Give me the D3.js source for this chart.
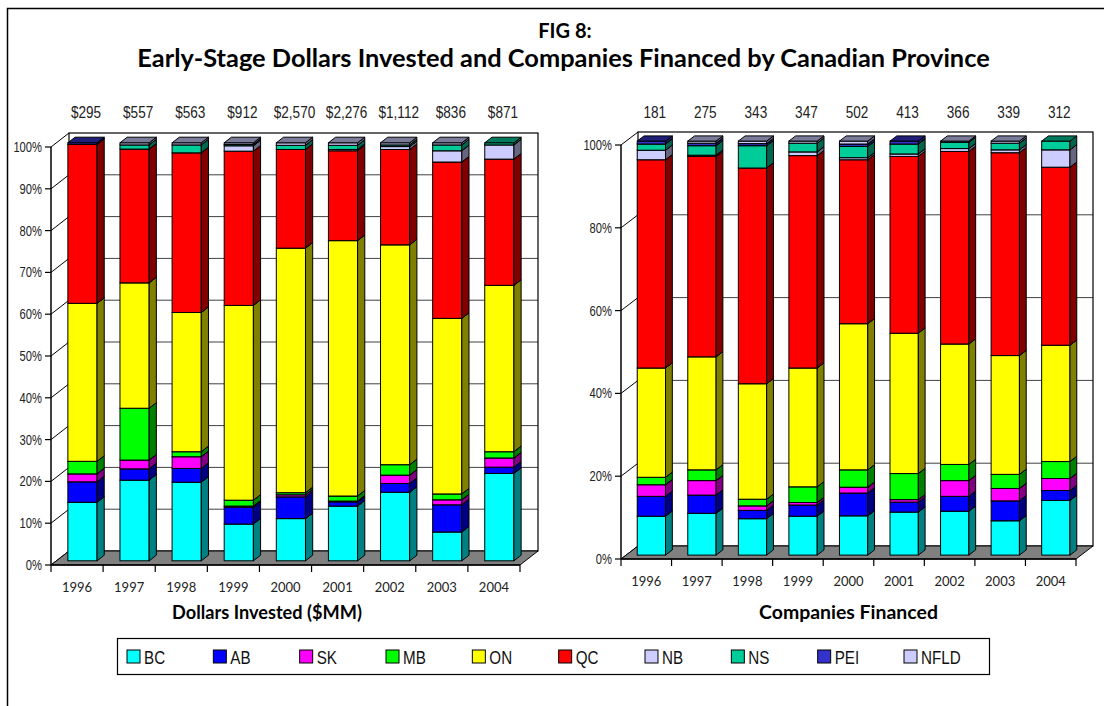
<!DOCTYPE html>
<html>
<head>
<meta charset="utf-8">
<script src="https://cdn.jsdelivr.net/npm/d3@7"></script>
<style>
  body { margin: 0; background: #fff; }
  svg { display: block; }
  .narrow { font-family: "Liberation Sans Narrow", "Liberation Sans", "Roboto", sans-serif; }
  .human { font-family: "Lato", "Open Sans", sans-serif; }
</style>
</head>
<body>
<svg id="chart" width="1104" height="706"></svg>
<script>
// ---- data (percent share of each year, stacked bottom -> top) ----
const years = ['1996','1997','1998','1999','2000','2001','2002','2003','2004'];
const provinces = ['BC','AB','SK','MB','ON','QC','NB','NS','PEI','NFLD'];
const provColors = ['#00FFFF','#0000FF','#FF00FF','#00FF00','#FFFF00','#FF0000','#CCCCFF','#00CC99','#3333CC','#CCCCFF'];

const dollarTotals = ['$295','$557','$563','$912','$2,570','$2,276','$1,112','$836','$871'];
const companyTotals = ['181','275','343','347','502','413','366','339','312'];

const dollarTicks = [0,10,20,30,40,50,60,70,80,90,100];
const companyTicks = [0,20,40,60,80,100];

// Dollars invested, % by province
const dollarsBC   = [14.0,19.3,18.8, 8.8,10.1,13.1,16.4, 6.9,20.9];
const dollarsAB   = [ 4.9, 2.7, 3.3, 4.0, 5.2, 1.0, 2.1, 6.5, 1.5];
const dollarsSK   = [ 1.9, 2.1, 2.8, 0.3, 0.5, 0.2, 2.0, 1.2, 2.2];
const dollarsMB   = [ 3.0,12.4, 1.2, 1.4, 0.5, 1.2, 2.5, 1.4, 1.5];
const dollarsON   = [37.8,30.0,33.3,46.6,58.5,61.1,52.6,42.0,39.8];
const dollarsQC   = [38.0,32.0,38.2,36.9,23.6,21.5,22.8,37.4,30.2];
const dollarsNB   = [ 0.0, 0.0, 0.0, 1.3, 0.0, 0.3, 0.7, 2.7, 3.4];
const dollarsNS   = [ 0.0, 1.0, 1.9, 0.3, 1.0, 1.0, 0.4, 1.4, 0.5];
const dollarsPEI  = [ 0.4, 0.0, 0.0, 0.0, 0.0, 0.0, 0.0, 0.0, 0.0];
const dollarsNFLD = [ 0.0, 0.5, 0.5, 0.4, 0.6, 0.6, 0.5, 0.5, 0.0];

// Companies financed, % by province
const companiesBC   = [ 9.4,10.1, 8.8, 9.4, 9.5,10.4,10.6, 8.3,13.2];
const companiesAB   = [ 4.8, 4.4, 2.0, 2.7, 5.5, 2.4, 3.6, 4.8, 2.4];
const companiesSK   = [ 2.8, 3.5, 1.1, 0.6, 1.4, 0.6, 3.8, 3.0, 2.9];
const companiesMB   = [ 1.8, 2.6, 1.6, 3.8, 4.2, 6.3, 3.9, 3.4, 4.1];
const companiesON   = [26.4,27.3,27.9,28.7,35.3,33.9,29.1,28.7,28.1];
const companiesQC   = [50.3,48.4,52.1,51.3,39.6,42.7,46.5,49.0,43.0];
const companiesNB   = [ 2.3, 0.3, 0.0, 0.9, 0.5, 0.6, 0.7, 0.7, 4.2];
const companiesNS   = [ 1.5, 2.3, 5.4, 2.1, 2.7, 2.4, 1.5, 1.6, 2.1];
const companiesPEI  = [ 0.7, 0.6, 0.5, 0.0, 0.6, 0.7, 0.0, 0.0, 0.0];
const companiesNFLD = [ 0.0, 0.5, 0.6, 0.5, 0.7, 0.0, 0.3, 0.5, 0.0];

const dollarSeries = [dollarsBC,dollarsAB,dollarsSK,dollarsMB,dollarsON,dollarsQC,dollarsNB,dollarsNS,dollarsPEI,dollarsNFLD];
const companySeries = [companiesBC,companiesAB,companiesSK,companiesMB,companiesON,companiesQC,companiesNB,companiesNS,companiesPEI,companiesNFLD];

const svg = d3.select('#chart');
const SQUEEZE = 0.8; // fake a narrow face

// frame
svg.append('rect')
  .attr('x',7.5).attr('y',8.5).attr('width',1200).attr('height',800)
  .attr('fill','none').attr('stroke','#000').attr('stroke-width',1.5);

function shade(c,k){
  const r = d3.rgb(c);
  return d3.rgb(r.r*k, r.g*k, r.b*k).toString();
}

function fitText(sel,w){
  const len = sel.node().getComputedTextLength();
  const fs = parseFloat(sel.attr('font-size'));
  sel.attr('font-size', fs*w/len);
}

// titles
const t2 = svg.append('text').attr('class','human')
  .attr('x',563.5).attr('y',67).attr('text-anchor','middle')
  .attr('font-size',20).attr('font-weight','bold')
  .text('Early-Stage Dollars Invested and Companies Financed by Canadian Province');
fitText(t2,853);
svg.append('text').attr('class','human')
  .attr('x',565).attr('y',38).attr('text-anchor','middle')
  .attr('font-size',20).attr('font-weight','bold').text('FIG 8:');

function drawChart(opt){
  const {x0,x1,yBase,yTop,dx,dy,series,ticks,totals,title,titleX,titleW} = opt;
  const g = svg.append('g');

  const x = d3.scaleBand().domain(years).range([x0,x1])
    .paddingInner(0.44).paddingOuter(0.22);
  const y = d3.scaleLinear().domain([0,100]).range([yBase,yTop]);

  // side wall
  g.append('path')
    .attr('d',`M${x0},${yBase}L${x0},${yTop}L${x0+dx},${yTop+dy}L${x0+dx},${yBase+dy}Z`)
    .attr('fill','#fff').attr('stroke','none');
  g.selectAll('.sideGrid').data(ticks).enter().append('line')
    .attr('x1',x0).attr('y1',d=>y(d))
    .attr('x2',x0+dx).attr('y2',d=>y(d)+dy)
    .attr('stroke','#000').attr('stroke-width',1);

  // back wall
  g.append('rect')
    .attr('x',x0+dx).attr('y',yTop+dy)
    .attr('width',x1-x0).attr('height',yBase-yTop)
    .attr('fill','#fff').attr('stroke','#000').attr('stroke-width',1.2);
  g.selectAll('.backGrid').data(ticks.slice(1,-1)).enter().append('line')
    .attr('x1',x0+dx).attr('x2',x1+dx)
    .attr('y1',d=>y(d)+dy).attr('y2',d=>y(d)+dy)
    .attr('stroke','#000').attr('stroke-width',1).attr('stroke-opacity',0.75);

  // floor
  g.append('path')
    .attr('d',`M${x0},${yBase}L${x1},${yBase}L${x1+dx},${yBase+dy}L${x0+dx},${yBase+dy}Z`)
    .attr('fill','#808080').attr('stroke','#000').attr('stroke-width',1);

  // bars
  const f0 = 0.3, f1 = 0.7;
  const ox = dx*f0, oy = dy*f0;           // front face offset
  const sx = dx*(f1-f0), sy = dy*(f1-f0); // bar depth
  const bw = x.bandwidth();
  years.forEach((yr,i)=>{
    let acc = 0;
    const segs = [];
    series.forEach((s,k)=>{
      const v = s[i];
      if(v>0){ segs.push({k, y0:acc, y1:acc+v}); }
      acc += v;
    });
    const bg = g.append('g').attr('class','bar');
    segs.forEach(sg=>{
      const c = provColors[sg.k];
      const left = x(yr)+ox;
      const right = left+bw;
      const top = y(sg.y1)+oy;
      const bot = y(sg.y0)+oy;
      bg.append('rect')
        .attr('x',left).attr('y',top).attr('width',bw).attr('height',bot-top)
        .attr('fill',c).attr('stroke','#000').attr('stroke-width',1);
      bg.append('path')
        .attr('d',`M${right},${bot}L${right},${top}L${right+sx},${top+sy}L${right+sx},${bot+sy}Z`)
        .attr('fill',shade(c,0.5)).attr('stroke','#000').attr('stroke-width',1);
      bg.append('path')
        .attr('d',`M${left},${top}L${right},${top}L${right+sx},${top+sy}L${left+sx},${top+sy}Z`)
        .attr('fill',shade(c,0.6)).attr('stroke','#000').attr('stroke-width',1);
    });
  });

  // axes
  g.append('line').attr('x1',x0).attr('x2',x0).attr('y1',yBase).attr('y2',yTop)
    .attr('stroke','#000').attr('stroke-width',1.5);
  g.selectAll('.ytick').data(ticks).enter().append('line')
    .attr('x1',x0-6).attr('x2',x0).attr('y1',d=>y(d)).attr('y2',d=>y(d))
    .attr('stroke','#000').attr('stroke-width',1.2);
  g.selectAll('.ylab').data(ticks).enter().append('text')
    .attr('class','narrow')
    .attr('transform',d=>`translate(${x0-9},${y(d)}) scale(${SQUEEZE},1)`)
    .attr('dy','0.35em')
    .attr('text-anchor','end').attr('font-size',14).attr('fill','#222')
    .text(d=>d+'%');

  g.append('line').attr('x1',x0).attr('x2',x1).attr('y1',yBase).attr('y2',yBase)
    .attr('stroke','#000').attr('stroke-width',1.5);
  const bounds = years.map(yr=>x(yr)-x.step()*0.22).concat([x1]);
  g.selectAll('.xtick').data(bounds).enter().append('line')
    .attr('x1',d=>d).attr('x2',d=>d).attr('y1',yBase).attr('y2',yBase+7)
    .attr('stroke','#000').attr('stroke-width',1.2);
  g.selectAll('.xlab').data(years).enter().append('text')
    .attr('class','human')
    .attr('x',d=>x(d)+bw/2).attr('y',yBase+27)
    .attr('text-anchor','middle').attr('font-size',13).attr('fill','#222')
    .text(d=>d);

  // totals above bars
  g.selectAll('.total').data(years).enter().append('text')
    .attr('class','narrow')
    .attr('transform',d=>`translate(${x(d)+bw/2+dx/2},118) scale(${SQUEEZE},1)`)
    .attr('text-anchor','middle').attr('font-size',17).attr('fill','#222')
    .text((d,i)=>totals[i]);

  // axis title
  const at = g.append('text').attr('class','human')
    .attr('x',titleX).attr('y',619).attr('text-anchor','middle')
    .attr('font-size',15).attr('font-weight','bold').text(title);
  fitText(at,titleW);
}

drawChart({x0:51,x1:520,yBase:565,yTop:147,dx:18,dy:-14,
  series:dollarSeries,ticks:dollarTicks,totals:dollarTotals,
  title:'Dollars Invested ($MM)',titleX:267,titleW:190});
drawChart({x0:621,x1:1076,yBase:559,yTop:145,dx:17,dy:-13,
  series:companySeries,ticks:companyTicks,totals:companyTotals,
  title:'Companies Financed',titleX:848.5,titleW:179});

// legend
const legend = svg.append('g');
legend.append('rect')
  .attr('x',117.5).attr('y',638.5).attr('width',872).attr('height',36)
  .attr('fill','#fff').attr('stroke','#000').attr('stroke-width',1.2);
const lx = d3.scalePoint().domain(provinces).range([127,904]);
const items = legend.selectAll('.item').data(provinces).enter().append('g')
  .attr('transform',d=>`translate(${lx(d)},650)`);
items.append('rect').attr('width',13).attr('height',13)
  .attr('fill',(d,i)=>provColors[i]).attr('stroke','#000').attr('stroke-width',1);
items.append('text').attr('class','narrow')
  .attr('transform',`translate(17,13.5) scale(${SQUEEZE},1)`)
  .attr('font-size',19).attr('fill','#111')
  .text(d=>d);
</script>
</body>
</html>
